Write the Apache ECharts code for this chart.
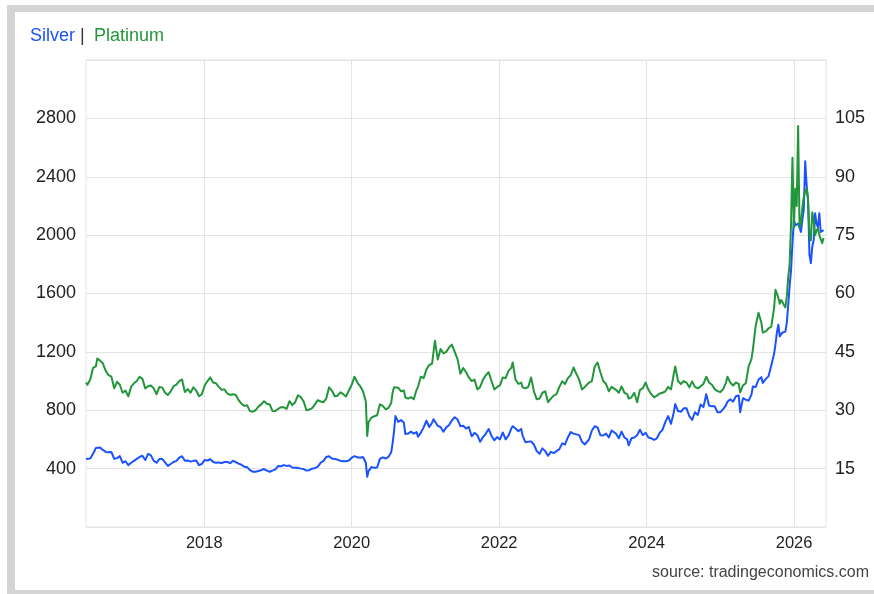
<!DOCTYPE html>
<html>
<head>
<meta charset="utf-8">
<script src="https://cdn.jsdelivr.net/npm/echarts@6/dist/echarts.min.js"></script>
<style>
html,body{margin:0;padding:0;background:#fff;}
#c{width:874px;height:594px;}
</style>
</head>
<body>
<div id="c"></div>
<script>
// Weekly/semi-monthly observation dates
const dates = [
'2016-05-25','2016-06-01','2016-06-15','2016-06-29','2016-07-13','2016-07-20','2016-08-03','2016-08-17','2016-08-31','2016-09-14','2016-09-28','2016-10-12','2016-10-26','2016-11-09','2016-11-23','2016-12-07','2016-12-21',
'2017-01-04','2017-01-18','2017-02-01','2017-02-15','2017-03-01','2017-03-15','2017-03-29','2017-04-12','2017-04-26','2017-05-10','2017-05-24','2017-06-07','2017-06-21','2017-07-05','2017-07-19','2017-08-02','2017-08-16','2017-08-30','2017-09-13','2017-09-27','2017-10-11','2017-10-25','2017-11-08','2017-11-22','2017-12-06','2017-12-20',
'2018-01-03','2018-01-17','2018-01-31','2018-02-14','2018-02-28','2018-03-14','2018-03-28','2018-04-11','2018-04-25','2018-05-09','2018-05-23','2018-06-06','2018-06-20','2018-07-04','2018-07-18','2018-08-01','2018-08-15','2018-08-29','2018-09-12','2018-09-26','2018-10-10','2018-10-24','2018-11-07','2018-11-21','2018-12-05','2018-12-19',
'2019-01-02','2019-01-16','2019-01-30','2019-02-13','2019-02-27','2019-03-13','2019-03-27','2019-04-10','2019-04-24','2019-05-08','2019-05-22','2019-06-05','2019-06-19','2019-07-03','2019-07-17','2019-07-31','2019-08-14','2019-08-28','2019-09-11','2019-09-25','2019-10-09','2019-10-23','2019-11-06','2019-11-20','2019-12-04','2019-12-18',
'2020-01-01','2020-01-15','2020-01-29','2020-02-12','2020-02-26','2020-03-11','2020-03-18','2020-03-25','2020-04-08','2020-04-22','2020-05-06','2020-05-20','2020-06-03','2020-06-17','2020-07-01','2020-07-15','2020-07-22','2020-07-29','2020-08-05','2020-08-19','2020-09-02','2020-09-16','2020-09-23','2020-10-07','2020-10-21','2020-11-04','2020-11-18','2020-11-25','2020-12-09','2020-12-23',
'2021-01-06','2021-01-20','2021-02-03','2021-02-10','2021-02-17','2021-03-03','2021-03-17','2021-03-31','2021-04-14','2021-04-28','2021-05-12','2021-05-26','2021-06-09','2021-06-23','2021-07-07','2021-07-21','2021-08-04','2021-08-18','2021-09-01','2021-09-15','2021-09-29','2021-10-13','2021-10-27','2021-11-10','2021-11-24','2021-12-08','2021-12-22',
'2022-01-05','2022-01-19','2022-02-02','2022-02-16','2022-03-02','2022-03-09','2022-03-23','2022-04-06','2022-04-20','2022-04-27','2022-05-11','2022-05-25','2022-06-08','2022-06-22','2022-07-06','2022-07-20','2022-08-03','2022-08-17','2022-08-31','2022-09-14','2022-09-28','2022-10-12','2022-10-26','2022-11-09','2022-11-23','2022-12-07','2022-12-21',
'2023-01-04','2023-01-18','2023-02-01','2023-02-15','2023-03-01','2023-03-08','2023-03-22','2023-04-05','2023-04-19','2023-05-03','2023-05-17','2023-05-31','2023-06-14','2023-06-28','2023-07-12','2023-07-19','2023-08-02','2023-08-16','2023-08-30','2023-09-13','2023-09-27','2023-10-04','2023-10-18','2023-11-01','2023-11-15','2023-11-29','2023-12-13','2023-12-27',
'2024-01-10','2024-01-24','2024-02-07','2024-02-21','2024-03-06','2024-03-20','2024-04-03','2024-04-17','2024-05-01','2024-05-15','2024-05-22','2024-06-05','2024-06-19','2024-07-03','2024-07-17','2024-07-31','2024-08-14','2024-08-28','2024-09-11','2024-09-25','2024-10-09','2024-10-23','2024-11-06','2024-11-20','2024-12-04','2024-12-18',
'2025-01-01','2025-01-15','2025-01-29','2025-02-05','2025-02-19','2025-03-05','2025-03-19','2025-04-02','2025-04-09','2025-04-23','2025-05-07','2025-05-21','2025-06-04','2025-06-11','2025-06-25','2025-07-09','2025-07-23','2025-07-30','2025-08-13','2025-08-27','2025-09-10','2025-09-24','2025-10-01','2025-10-08','2025-10-15','2025-10-22','2025-10-29','2025-11-05','2025-11-12','2025-11-19','2025-11-26','2025-12-03','2025-12-10','2025-12-17','2025-12-24','2025-12-31',
'2026-01-07','2026-01-14','2026-01-21','2026-01-28','2026-02-04','2026-02-11','2026-02-18','2026-02-25','2026-03-04','2026-03-11','2026-03-18','2026-03-25','2026-04-01','2026-04-08','2026-04-15','2026-04-22','2026-04-29','2026-05-06','2026-05-13','2026-05-20','2026-05-27'
];

// Silver, USD/oz (right axis)
const silver = [
17.5,17.2,17.6,18.8,20.3,20.0,20.4,19.8,19.3,19.2,19.3,17.5,17.7,18.2,16.5,16.9,15.9,
16.5,17.0,17.5,18.0,18.3,17.2,18.8,18.4,17.0,16.5,17.5,17.5,16.6,15.7,16.2,16.7,17.0,17.8,18.2,17.0,17.1,16.8,17.0,17.1,15.9,16.2,
17.2,17.1,17.4,16.7,16.5,16.6,16.4,16.7,16.7,16.4,17.0,16.7,16.3,16.0,15.5,15.4,14.6,14.2,14.2,14.4,14.6,14.9,14.5,14.2,14.5,14.8,
15.7,15.6,15.9,15.7,15.8,15.3,15.2,15.2,15.0,14.9,14.5,14.6,15.0,15.1,15.5,16.5,17.0,18.0,18.2,17.6,17.5,17.3,17.0,16.9,16.9,17.1,
17.8,18.2,17.9,17.8,18.0,16.5,12.9,14.4,15.4,15.2,15.3,17.5,17.9,17.6,18.0,19.2,21.5,24.5,28.5,27.0,27.5,26.8,23.9,24.0,24.5,24.0,24.4,23.2,24.2,25.6,
27.3,25.7,26.8,27.7,27.3,26.0,25.7,24.5,25.6,26.2,27.4,28.2,27.6,25.9,26.0,25.3,25.7,23.3,24.2,23.6,21.9,23.1,24.0,25.2,23.4,22.3,23.1,
22.5,24.3,22.5,23.5,25.3,25.9,25.3,24.6,25.2,23.5,21.8,21.9,22.0,21.2,19.5,18.8,20.2,19.5,18.3,19.3,19.0,19.5,20.0,21.5,21.2,23.0,24.4,
24.0,23.8,23.6,21.9,21.2,20.8,22.5,24.8,25.9,25.6,23.6,23.5,24.0,23.0,24.8,25.2,24.0,22.8,24.5,23.0,22.5,21.0,22.8,23.0,23.6,25.0,23.6,24.2,
23.0,22.8,22.4,22.8,24.2,25.0,27.0,28.5,26.5,29.5,31.6,29.8,29.6,30.5,30.5,28.5,27.5,29.5,28.8,31.5,30.8,34.1,31.2,31.0,31.0,29.5,
29.5,30.3,31.3,32.2,32.8,32.2,33.6,33.8,29.5,33.1,32.7,32.5,34.0,36.1,36.0,37.9,38.5,37.0,38.0,38.7,41.5,44.5,47.0,50.0,52.0,49.0,48.8,50.0,50.5,50.2,52.5,57.0,62.0,66.0,73.0,79.0,
77.5,77.0,78.0,77.0,75.8,79.0,81.4,94.0,88.0,83.9,70.0,67.8,72.0,73.7,80.6,78.0,77.0,80.6,75.8,76.0,76.3
];

// Platinum, USD/oz (left axis)
const platinum = [
990,975,1010,1090,1100,1154,1140,1120,1070,1040,1030,950,995,975,920,935,895,
960,985,1000,1030,1015,950,965,970,950,910,960,955,920,905,930,965,975,1000,1011,925,945,920,957,935,896,910,
970,1000,1025,990,985,960,940,943,915,905,910,905,870,845,830,835,794,790,800,825,840,862,845,840,794,795,
810,821,820,810,862,835,855,903,890,860,800,805,815,840,869,860,855,880,957,935,896,900,923,910,895,935,
975,1030,990,965,930,860,623,720,750,759,765,841,830,807,815,850,920,957,950,955,930,935,889,880,890,875,940,960,1030,1020,
1080,1110,1120,1200,1277,1147,1220,1190,1200,1230,1250,1200,1150,1050,1090,1060,1025,1000,1010,943,960,1010,1040,1060,1000,943,960,
970,1025,1020,1070,1090,1127,1010,980,990,957,950,960,1025,930,875,880,920,930,855,880,900,910,960,998,980,1020,1040,
1093,1050,1010,943,960,955,990,1000,1100,1127,1060,1000,980,930,960,964,940,920,964,920,910,880,889,920,855,940,950,990,
940,910,889,900,915,920,930,960,943,1050,1100,1000,980,1000,990,957,998,960,950,964,980,1030,990,975,945,930,
925,945,990,1030,990,970,990,980,923,970,985,1100,1150,1216,1380,1468,1400,1332,1340,1360,1373,1500,1625,1600,1570,1530,1556,1540,1520,1505,1580,1713,1800,2080,2531,2050,
2318,2200,2748,2054,2081,2190,2260,2300,2320,2250,2010,1963,2156,2100,1999,2030,2047,2000,2013,1945,1980
];

const xRange = ['2016-05-25', '2026-06-08'];
const yearTicks = [2018, 2020, 2022, 2024, 2026];
const leftTickLabels = [400, 800, 1200, 1600, 2000, 2400, 2800];
const rightTickLabels = [15, 30, 45, 60, 75, 90, 105];

const FONT = "'Liberation Sans', Arial, Helvetica, sans-serif";
const SILVER_COLOR = '#1a52ff';
const PLAT_COLOR = '#22963a';
const GRID_COLOR = '#e4e4e4';

// date string -> fractional year
function decYear(d){
  const p = d.split('-').map(Number);
  const start = Date.UTC(p[0],0,1), end = Date.UTC(p[0]+1,0,1);
  return p[0] + (Date.UTC(p[0],p[1]-1,p[2]) - start) / (end - start);
}

const silverData = dates.map((d,i)=>[decYear(d), silver[i]]);
const platData = dates.map((d,i)=>[decYear(d), platinum[i]]);

const chart = echarts.init(document.getElementById('c'), null, {renderer:'canvas', width:874, height:594});
chart.setOption({
  animation:false,
  backgroundColor:'#ffffff',
  textStyle:{fontFamily:FONT},
  grid:{left:86, right:48, top:60, bottom:67, show:true, borderColor:GRID_COLOR, borderWidth:1, backgroundColor:'transparent'},
  xAxis:{
    type:'value',
    min:decYear(xRange[0]), max:decYear(xRange[1]),
    axisLine:{show:false},
    axisTick:{show:false, customValues:yearTicks},
    axisLabel:{customValues:yearTicks, formatter:(v)=>String(Math.round(v)), fontSize:16.5, color:'#222', margin:8, fontFamily:FONT},
    splitLine:{show:true, lineStyle:{color:GRID_COLOR, width:1}}
  },
  yAxis:[
    {type:'value', position:'left', min:0, max:3200, interval:400,
     axisLine:{show:false}, axisTick:{show:false},
     axisLabel:{formatter:(v)=>leftTickLabels.includes(v)?String(v):'', fontSize:18, color:'#222', margin:10, fontFamily:FONT},
     splitLine:{show:true, lineStyle:{color:GRID_COLOR, width:1}}},
    {type:'value', position:'right', min:0, max:120, interval:15,
     axisLine:{show:false}, axisTick:{show:false},
     axisLabel:{formatter:(v)=>rightTickLabels.includes(v)?String(v):'', fontSize:18, color:'#222', margin:9, fontFamily:FONT},
     splitLine:{show:false}}
  ],
  series:[
    {name:'Silver', type:'line', yAxisIndex:1, data:silverData, showSymbol:false, symbol:'none',
     lineStyle:{color:SILVER_COLOR, width:2, join:'round'}, itemStyle:{color:SILVER_COLOR}},
    {name:'Platinum', type:'line', yAxisIndex:0, data:platData, showSymbol:false, symbol:'none',
     lineStyle:{color:PLAT_COLOR, width:2, join:'round'}, itemStyle:{color:PLAT_COLOR}}
  ],
  graphic:[
    {type:'rect', shape:{x:7, y:5, width:867, height:7}, style:{fill:'#d4d4d4'}, silent:true},
    {type:'rect', shape:{x:7, y:5, width:8, height:589}, style:{fill:'#d4d4d4'}, silent:true},
    {type:'rect', shape:{x:7, y:590, width:867, height:4}, style:{fill:'#d4d4d4'}, silent:true},
    {type:'text', left:30, top:27, style:{text:'Silver', fill:SILVER_COLOR, font:'18px ' + FONT}},
    {type:'text', left:80, top:27, style:{text:'|', fill:'#333', font:'18px ' + FONT}},
    {type:'text', left:94, top:27, style:{text:'Platinum', fill:PLAT_COLOR, font:'18px ' + FONT}},
    {type:'text', right:5, top:565, style:{text:'source: tradingeconomics.com', fill:'#444', font:'16px ' + FONT}}
  ]
});
</script>
</body>
</html>
